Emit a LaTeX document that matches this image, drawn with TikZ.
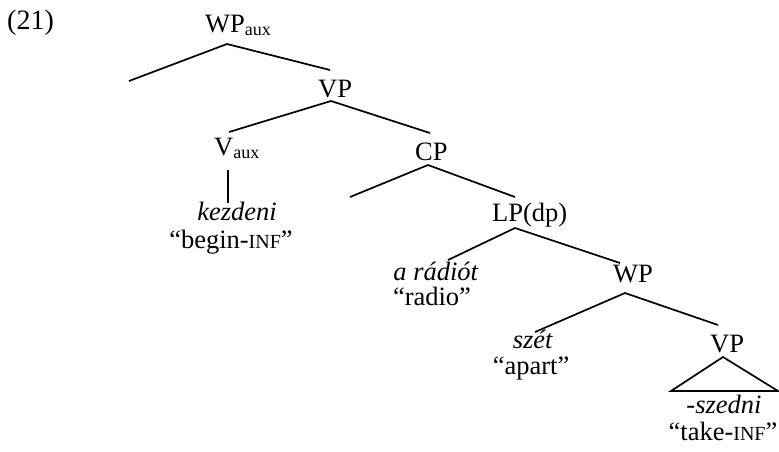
\documentclass[tikz,border=0pt]{standalone}
\usepackage{fontspec}
\setmainfont{Liberation Serif}
\newcommand\mysub[1]{\raisebox{-0.12em}{\fontsize{18}{20}\selectfont #1}}
\newcommand\mysc[1]{{\fontsize{20}{20}\selectfont #1}}
\begin{document}
\begin{tikzpicture}[x=1pt,y=-1pt,
  lbl/.style={inner sep=0pt, anchor=base west, font=\fontsize{26.5}{30}\selectfont},
  ctr/.style={inner sep=0pt, anchor=base, font=\fontsize{26.5}{30}\selectfont},
  branch/.style={line width=1.7pt, line join=miter}]
\useasboundingbox (0,0) rectangle (779,451);
% labels
\node[lbl, font=\fontsize{28}{30}\selectfont] (ex) at (7,29) {(21)};
\node[lbl] (wpaux) at (205,32) {WP\mysub{aux}};
\node[lbl] (vp1) at (318,97) {VP};
\node[lbl] (vaux) at (214,155) {V\mysub{aux}};
\node[ctr] (kez) at (237,220) {\textit{kezdeni}};
\node[ctr] (begin) at (231,248) {“begin-\mysc{INF}”};
\node[lbl] (cp) at (415,160) {CP};
\node[lbl] (lp) at (492,221) {LP(dp)};
\node[ctr] (arad) at (436,280) {\textit{a rádiót}};
\node[ctr] (radio) at (432,305) {“radio”};
\node[lbl] (wp) at (613,282) {WP};
\node[ctr] (szet) at (533,348) {\textit{szét}};
\node[ctr] (apart) at (531,374) {“apart”};
\node[lbl] (vp2) at (710,352) {VP};
\node[ctr] (szedni) at (724,413) {\textit{-szedni}};
\node[ctr] (take) at (723,440) {“take-\mysc{INF}”};
% branch points
\coordinate (wpauxT) at (227,44);
\coordinate (wpauxL) at (129,81);
\coordinate (wpauxR) at (330,70);
\coordinate (vp1T) at (331,101);
\coordinate (vp1L) at (229,132);
\coordinate (vp1R) at (430,133);
\coordinate (vauxB) at (228,170);
\coordinate (kezT) at (228,203);
\coordinate (cpT) at (428,165);
\coordinate (cpL) at (350,197);
\coordinate (cpR) at (515,197);
\coordinate (lpT) at (515,228);
\coordinate (lpL) at (448,260);
\coordinate (lpR) at (620,263);
\coordinate (wpT) at (625,293);
\coordinate (wpL) at (535,332);
\coordinate (wpR) at (718,325);
\coordinate (vp2T) at (723,357);
\coordinate (vp2L) at (671,391);
\coordinate (vp2R) at (778,391);
% branches
\draw[branch] (wpauxL) -- (wpauxT) -- (wpauxR);
\draw[branch] (vp1L) -- (vp1T) -- (vp1R);
\draw[branch] (vauxB) -- (kezT);
\draw[branch] (cpL) -- (cpT) -- (cpR);
\draw[branch] (lpL) -- (lpT) -- (lpR);
\draw[branch] (wpL) -- (wpT) -- (wpR);
\draw[branch] (vp2T) -- (vp2L) -- (vp2R) -- cycle;
\end{tikzpicture}
\end{document}
